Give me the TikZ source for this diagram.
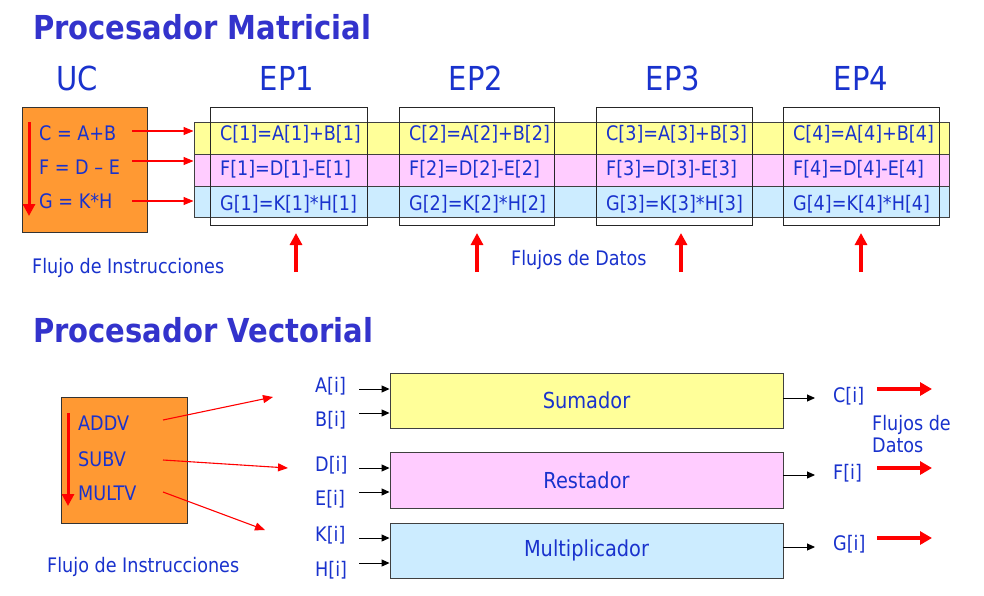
\documentclass[tikz,border=0pt]{standalone}
\usepackage{fontspec}
\setmainfont{DejaVu Sans}[FakeStretch=0.88]
\usetikzlibrary{arrows.meta}
\definecolor{tblue}{RGB}{25,50,205}
\definecolor{ttl}{RGB}{51,51,204}
\definecolor{orng}{RGB}{255,153,51}
\definecolor{yel}{RGB}{255,255,153}
\definecolor{pnk}{RGB}{255,204,255}
\definecolor{lblue}{RGB}{204,236,255}
\definecolor{rd}{RGB}{255,0,0}
\tikzset{
  titletxt/.style={text=ttl, font=\bfseries\fontsize{33}{36}\selectfont, inner sep=0pt, anchor=base west},
  hdr/.style={text=tblue, font=\fontsize{33}{36}\selectfont, inner sep=0pt, anchor=base},
  txt/.style={text=tblue, font=\fontsize{20}{22}\selectfont, inner sep=0pt, anchor=base west},
  ctxt/.style={text=tblue, font=\fontsize{22}{24}\selectfont, inner sep=0pt},
  ucbox/.style={draw=black!80, fill=orng, line width=0.9pt, inner sep=0pt},
  band/.style={draw=black!75, line width=0.9pt, inner sep=0pt, minimum width=755pt},
  epbox/.style={draw=black!85, line width=1pt, inner sep=0pt, minimum width=157pt, minimum height=118pt},
  funit/.style={draw=black!75, line width=0.9pt, inner sep=0pt, minimum width=393pt},
  thinred/.style={draw=rd, line width=1.1pt, -{Triangle[length=10pt,width=8pt]}},
  bigred/.style={draw=rd, line width=4pt, -{Triangle[length=12pt,width=13pt]}},
  upred/.style={draw=rd, line width=3.5pt, -{Triangle[length=12pt,width=12pt]}},
  thinblk/.style={draw=black, line width=0.9pt, -{Triangle[length=8pt,width=7pt]}},
}
\begin{document}
\begin{tikzpicture}[x=1pt,y=-1pt]
\useasboundingbox (0,0) rectangle (984,595);
\fill[white] (0,0) rectangle (984,595);

% ---------- Procesador Matricial ----------
\node[titletxt] (t1) at (33,39) {Procesador Matricial};
\node[hdr] (huc) at (77,90) {UC};
\node[hdr] (hep1) at (287,90) {EP1};
\node[hdr] (hep2) at (476,90) {EP2};
\node[hdr] (hep3) at (673,90) {EP3};
\node[hdr] (hep4) at (861,90) {EP4};

\node[ucbox, minimum width=125pt, minimum height=125pt] (uc) at (84.5,169.5) {};
\draw[upred, line width=3pt] (29,122) -- (29,216);
\node[txt] (i1) at (39,140) {C = A+B};
\node[txt] (i2) at (39,174) {F = D – E};
\node[txt] (i3) at (39,208) {G = K*H};

\node[band, fill=yel, minimum height=32pt] (b1) at (571.5,138) {};
\node[band, fill=pnk, minimum height=32pt] (b2) at (571.5,170) {};
\node[band, fill=lblue, minimum height=31pt] (b3) at (571.5,201.5) {};

\coordinate (s1) at (132,131);
\coordinate (s2) at (132,161);
\coordinate (s3) at (132,201);
\draw[thinred] (s1) -- (s1 -| b1.west);
\draw[thinred] (s2) -- (s2 -| b2.west);
\draw[thinred] (s3) -- (s3 -| b3.west);

\node[epbox] (ep1) at (288.5,166) {};
\node[epbox, minimum width=155pt] (ep2) at (476.5,166) {};
\node[epbox, minimum width=156pt] (ep3) at (674,166) {};
\node[epbox, minimum width=156pt] (ep4) at (861,166) {};

\node[txt] (c1) at (220,140) {C[1]=A[1]+B[1]};
\node[txt] (f1) at (220,175) {F[1]=D[1]-E[1]};
\node[txt] (g1) at (220,210) {G[1]=K[1]*H[1]};
\node[txt] (c2) at (409,140) {C[2]=A[2]+B[2]};
\node[txt] (f2) at (409,175) {F[2]=D[2]-E[2]};
\node[txt] (g2) at (409,210) {G[2]=K[2]*H[2]};
\node[txt] (c3) at (606,140) {C[3]=A[3]+B[3]};
\node[txt] (f3) at (606,175) {F[3]=D[3]-E[3]};
\node[txt] (g3) at (606,210) {G[3]=K[3]*H[3]};
\node[txt] (c4) at (793,140) {C[4]=A[4]+B[4]};
\node[txt] (f4) at (793,175) {F[4]=D[4]-E[4]};
\node[txt] (g4) at (793,210) {G[4]=K[4]*H[4]};

\coordinate (u1) at (296,272);
\coordinate (u2) at (477,272);
\coordinate (u3) at (681,272);
\coordinate (u4) at (861,272);
\draw[upred] (u1) -- ++(0,-39);
\draw[upred] (u2) -- ++(0,-39);
\draw[upred] (u3) -- ++(0,-39);
\draw[upred] (u4) -- ++(0,-39);

\node[txt] (fi1) at (32,273) {Flujo de Instrucciones};
\node[txt] (fd1) at (511,265) {Flujos de Datos};

% ---------- Procesador Vectorial ----------
\node[titletxt] (t2) at (33,342) {Procesador Vectorial};

\node[ucbox, minimum width=126pt, minimum height=126pt] (vc) at (124,460) {};
\draw[upred, line width=3pt] (68,413) -- (68,506);
\node[txt] (v1) at (78,430) {ADDV};
\node[txt] (v2) at (78,466) {SUBV};
\node[txt] (v3) at (78,500) {MULTV};
\coordinate (vs1) at (163,420);
\coordinate (vs2) at (163,460);
\coordinate (vs3) at (163,492);
\coordinate (ve1) at (273,397);
\coordinate (ve2) at (288,468);
\coordinate (ve3) at (265,530);
\draw[thinred] (vs1) -- (ve1);
\draw[thinred] (vs2) -- (ve2);
\draw[thinred] (vs3) -- (ve3);
\node[txt] (fi2) at (47,572) {Flujo de Instrucciones};

\node[funit, fill=yel, minimum height=55pt] (sum) at (586.5,400.5) {};
\node[funit, fill=pnk, minimum height=56pt] (res) at (586.5,480) {};
\node[funit, fill=lblue, minimum height=55pt] (mul) at (586.5,550.5) {};
\node[ctxt] at (sum.center) {Sumador};
\node[ctxt] at (res.center) {Restador};
\node[ctxt] at (mul.center) {Multiplicador};

\node[txt] (la) at (315,392) {A[i]};
\node[txt] (lb) at (315,426) {B[i]};
\node[txt] (ld) at (315,471) {D[i]};
\node[txt] (le) at (315,505) {E[i]};
\node[txt] (lk) at (315,541) {K[i]};
\node[txt] (lh) at (315,576) {H[i]};
\foreach \yy/\nn in {389/sum,413/sum,468/res,492/res,538/mul,563/mul}{
  \coordinate (in) at (359,\yy);
  \draw[thinblk] (in) -- (in -| \nn.west);
}
\coordinate (o1) at (815,398);
\coordinate (o2) at (815,475);
\coordinate (o3) at (815,547);
\draw[thinblk] (o1 -| sum.east) -- (o1);
\draw[thinblk] (o2 -| res.east) -- (o2);
\draw[thinblk] (o3 -| mul.east) -- (o3);
\node[txt] (lc) at (833,402) {C[i]};
\node[txt] (lf) at (833,479) {F[i]};
\node[txt] (lg) at (833,550) {G[i]};
\coordinate (r1) at (877,389);
\coordinate (r2) at (877,468);
\coordinate (r3) at (877,538);
\draw[bigred] (r1) -- ++(55,0);
\draw[bigred] (r2) -- ++(55,0);
\draw[bigred] (r3) -- ++(55,0);
\node[txt] (fd2a) at (872,430) {Flujos de};
\node[txt] (fd2b) at (872,452) {Datos};
\end{tikzpicture}
\end{document}
